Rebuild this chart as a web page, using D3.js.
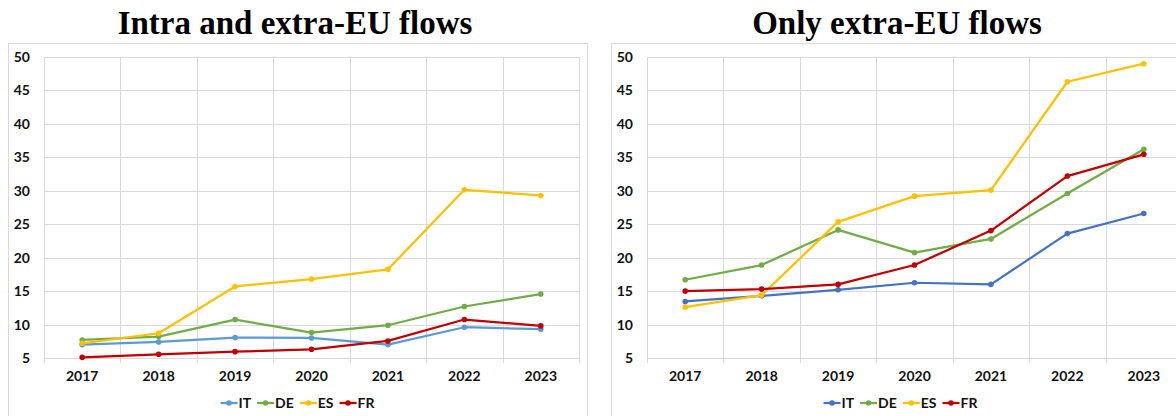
<!DOCTYPE html>
<html>
<head>
<meta charset="utf-8">
<script src="https://cdn.jsdelivr.net/npm/d3@7"></script>
<style>
  html, body { margin: 0; padding: 0; background: #ffffff; }
  svg { display: block; }
  .tick-label { font-family: Lato, "Open Sans", sans-serif; font-weight: 700; font-size: 14px; fill: #111; }
  .title { font-family: "Liberation Serif", "DejaVu Serif", serif; font-weight: 700; font-size: 33px; fill: #000; }
</style>
</head>
<body>
<svg id="chart" width="1176" height="416"></svg>
<script>
// Years on the horizontal axis
const years = ["2017", "2018", "2019", "2020", "2021", "2022", "2023"];
const yTicks = [5, 10, 15, 20, 25, 30, 35, 40, 45, 50];
const countries = ["IT", "DE", "ES", "FR"];

// Intra and extra-EU flows
const itAll = [7.0, 7.4, 8.05, 8.0, 7.0, 9.6, 9.3];
const deAll = [7.7, 8.2, 10.75, 8.8, 9.9, 12.7, 14.55];
const esAll = [7.2, 8.7, 15.7, 16.8, 18.25, 30.15, 29.3];
const frAll = [5.1, 5.55, 5.95, 6.3, 7.55, 10.75, 9.8];

// Only extra-EU flows
const itExtra = [13.45, 14.3, 15.2, 16.25, 16.0, 23.6, 26.6];
const deExtra = [16.7, 18.9, 24.15, 20.75, 22.8, 29.6, 36.2];
const esExtra = [12.6, 14.4, 25.35, 29.2, 30.1, 46.3, 49.0];
const frExtra = [15.0, 15.3, 16.0, 18.9, 24.05, 32.2, 35.45];

const colorsAll = { IT: "#5B9BD5", DE: "#70AD47", ES: "#FFC000", FR: "#C00000" };
const colorsExtra = { IT: "#4472C4", DE: "#70AD47", ES: "#FFC000", FR: "#C00000" };

const panels = [
  { title: "Intra and extra-EU flows", x0: 8, titleX: 295,
    series: { IT: itAll, DE: deAll, ES: esAll, FR: frAll }, colors: colorsAll },
  { title: "Only extra-EU flows", x0: 611, titleX: 897,
    series: { IT: itExtra, DE: deExtra, ES: esExtra, FR: frExtra }, colors: colorsExtra }
];

const svg = d3.select("#chart");
const frameW = 579, frameTop = 43, frameH = 400;
const plotTop = 57, plotBottom = 358, plotOffset = 36, plotW = 535;
const gridColor = "#d9d9d9";

panels.forEach(p => {
  const g = svg.append("g");

  // Chart frame
  g.append("rect")
    .attr("x", p.x0 + 0.5).attr("y", frameTop + 0.5)
    .attr("width", frameW).attr("height", frameH)
    .attr("fill", "none").attr("stroke", gridColor).attr("stroke-width", 1);

  // Title
  g.append("text").attr("class", "title")
    .attr("x", p.titleX).attr("y", 34)
    .attr("text-anchor", "middle")
    .text(p.title);

  const left = p.x0 + plotOffset;
  const x = d3.scaleBand().domain(years).range([left, left + plotW]).padding(0);
  const y = d3.scaleLinear().domain([5, 50]).range([plotBottom, plotTop]);

  // Horizontal gridlines with value labels
  const yAxis = d3.axisLeft(y).tickValues(yTicks).tickSize(-plotW).tickPadding(14);
  const ya = g.append("g").attr("transform", `translate(${left},0)`).call(yAxis);
  ya.select(".domain").remove();
  ya.selectAll(".tick line").attr("stroke", gridColor).attr("shape-rendering", "crispEdges");
  ya.selectAll(".tick text").attr("class", "tick-label").attr("fill", null);

  // Vertical gridlines at category boundaries, reaching just below the axis
  const bounds = years.map(d => x(d)).concat([x(years[years.length - 1]) + x.bandwidth()]);
  g.append("g").selectAll("line").data(bounds).join("line")
    .attr("x1", d => Math.round(d) + 0.5).attr("x2", d => Math.round(d) + 0.5)
    .attr("y1", plotTop).attr("y2", plotBottom + 5)
    .attr("stroke", gridColor).attr("stroke-width", 1);

  // Category labels
  const xAxis = d3.axisBottom(x).tickSize(0).tickPadding(13);
  const xa = g.append("g").attr("transform", `translate(0,${plotBottom})`).call(xAxis);
  xa.select(".domain").remove();
  xa.selectAll(".tick text").attr("class", "tick-label").attr("fill", null);

  const cx = d => x(d) + x.bandwidth() / 2;
  const line = d3.line().x((v, i) => cx(years[i])).y(v => y(v));

  countries.forEach(c => {
    const vals = p.series[c];
    g.append("path").datum(vals)
      .attr("d", line).attr("fill", "none")
      .attr("stroke", p.colors[c]).attr("stroke-width", 2.25)
      .attr("stroke-linejoin", "round");
    g.append("g").selectAll("circle").data(vals).join("circle")
      .attr("cx", (v, i) => cx(years[i])).attr("cy", v => y(v))
      .attr("r", 2.8).attr("fill", p.colors[c]);
  });

  // Legend centred under the plot
  const lg = g.append("g");
  const lineLen = 17, gapText = 1, gapItem = 6;
  let pos = 0;
  countries.forEach(c => {
    const it = lg.append("g");
    it.append("line").attr("x1", 0).attr("x2", lineLen).attr("y1", 0).attr("y2", 0)
      .attr("stroke", p.colors[c]).attr("stroke-width", 2.25);
    it.append("circle").attr("cx", lineLen / 2).attr("cy", 0).attr("r", 2.8).attr("fill", p.colors[c]);
    const t = it.append("text").attr("class", "tick-label")
      .attr("x", lineLen + gapText).attr("y", 5).text(c);
    const w = lineLen + gapText + t.node().getComputedTextLength();
    it.attr("transform", `translate(${pos},0)`);
    pos += w + gapItem;
  });
  const total = pos - gapItem;
  const centre = p.x0 + frameW / 2;
  lg.attr("transform", `translate(${centre - total / 2},403)`);
});
</script>
</body>
</html>
